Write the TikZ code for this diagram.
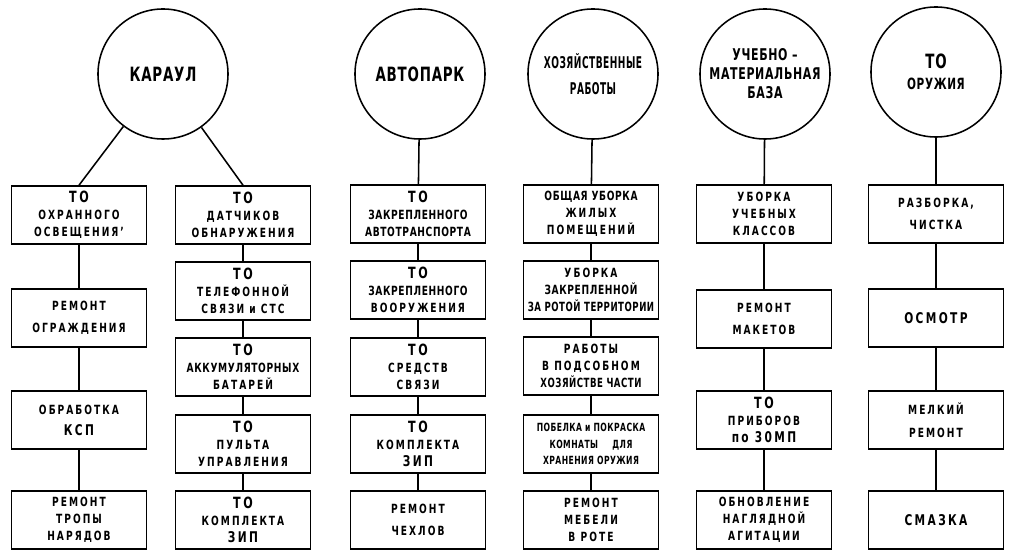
\documentclass[tikz,border=0pt]{standalone}
\usepackage{fontspec}
\setmainfont{DejaVu Sans}[FakeStretch=0.72,LetterSpace=16]
\newfontfamily\condfont{DejaVu Sans}[FakeStretch=0.68,LetterSpace=4]
\newfontfamily\narrowfont{DejaVu Sans}[FakeStretch=0.56,LetterSpace=3]
\usepackage{tikz}

\newcommand{\bigTO}{{\fontsize{11}{11}\selectfont ТО}}
\newcommand{\bigtxt}[1]{{\fontsize{10.5}{11}\selectfont #1}}
\newcommand{\tighttxt}[1]{{\addfontfeatures{LetterSpace=5}#1}}
\newcommand{\narrowtxt}[1]{{\condfont\bfseries #1}}

\tikzset{
  zone/.style={circle,draw,line width=1.1pt,minimum size=3.25cm,inner sep=0pt,align=center,
    font=\condfont\bfseries\fontsize{14}{16}\selectfont},
  job/.style={draw,line width=1.1pt,minimum width=3.38cm,minimum height=1.45cm,inner sep=1pt,
    align=center,font=\bfseries\fontsize{9}{12}\selectfont},
  link/.style={line width=1.1pt}
}

\begin{document}
\begin{tikzpicture}[x=0.025cm,y=-0.025cm]
\useasboundingbox (0,0) rectangle (1009,557);
% edit here for the circles
\node[zone] (karaul) at (163,74) {КАРАУЛ};
\node[zone] (avtopark) at (420,74) {АВТОПАРК};
\node[zone,font=\narrowfont\bfseries\fontsize{11.5}{19}\selectfont] (hoz) at (593,74) {ХОЗЯЙСТВЕННЫЕ\\РАБОТЫ};
\node[zone,font=\condfont\bfseries\fontsize{11.5}{13.5}\selectfont] (umb) at (765,74) {УЧЕБНО –\\МАТЕРИАЛЬНАЯ\\БАЗА};
\node[zone,font=\condfont\bfseries\fontsize{11}{15}\selectfont] (oruzh) at (936,72) {{\fontsize{14}{15}\selectfont ТО}\\ОРУЖИЯ};

% edit here for the boxes
\node[job] (a1) at (79,215) {\bigTO\\ОХРАННОГО\\ОСВЕЩЕНИЯ'};
\node[job] (a2) at (79,318) {РЕМОНТ\\[4pt]ОГРАЖДЕНИЯ};
\node[job] (a3) at (79,420) {ОБРАБОТКА\\[3pt]\bigtxt{КСП}};
\node[job] (a4) at (79,520) {РЕМОНТ\\ТРОПЫ\\НАРЯДОВ};

\node[job] (b1) at (243,215) {\bigTO\\ДАТЧИКОВ\\ОБНАРУЖЕНИЯ};
\node[job] (b2) at (243,291) {\bigTO\\ТЕЛЕФОННОЙ\\СВЯЗИ и СТС};
\node[job] (b3) at (243,367) {\bigTO\\\tighttxt{АККУМУЛЯТОРНЫХ}\\БАТАРЕЙ};
\node[job] (b4) at (243,444) {\bigTO\\ПУЛЬТА\\УПРАВЛЕНИЯ};
\node[job] (b5) at (243,520) {\bigTO\\КОМПЛЕКТА\\\bigtxt{ЗИП}};

\node[job] (c1) at (418,214) {\bigTO\\\tighttxt{ЗАКРЕПЛЕННОГО}\\\tighttxt{АВТОТРАНСПОРТА}};
\node[job] (c2) at (418,290) {\bigTO\\\tighttxt{ЗАКРЕПЛЕННОГО}\\ВООРУЖЕНИЯ};
\node[job] (c3) at (418,367) {\bigTO\\СРЕДСТВ\\СВЯЗИ};
\node[job] (c4) at (418,444) {\bigTO\\КОМПЛЕКТА\\\bigtxt{ЗИП}};
\node[job] (c5) at (418,520) {РЕМОНТ\\[4pt]ЧЕХЛОВ};

\node[job] (d1) at (591,214) {\tighttxt{ОБЩАЯ УБОРКА}\\ЖИЛЫХ\\ПОМЕЩЕНИЙ};
\node[job] (d2) at (591,290) {УБОРКА\\\tighttxt{ЗАКРЕПЛЕННОЙ}\\\narrowtxt{ЗА РОТОЙ ТЕРРИТОРИИ}};
\node[job] (d3) at (591,366) {РАБОТЫ\\В ПОДСОБНОМ\\\narrowtxt{ХОЗЯЙСТВЕ ЧАСТИ}};
\node[job,font=\condfont\bfseries\fontsize{8}{12}\selectfont] (d4) at (591,444) {ПОБЕЛКА и ПОКРАСКА\\КОМНАТЫ \quad ДЛЯ\\ХРАНЕНИЯ ОРУЖИЯ};
\node[job] (d5) at (591,520) {РЕМОНТ\\МЕБЕЛИ\\В РОТЕ};

\node[job] (e1) at (764,214) {УБОРКА\\УЧЕБНЫХ\\КЛАССОВ};
\node[job] (e2) at (764,319) {РЕМОНТ\\[4pt]МАКЕТОВ};
\node[job] (e3) at (764,420) {\bigTO\\ПРИБОРОВ\\\bigtxt{по 30МП}};
\node[job] (e4) at (764,520) {ОБНОВЛЕНИЕ\\НАГЛЯДНОЙ\\АГИТАЦИИ};

\node[job] (f1) at (936,214) {РАЗБОРКА,\\[4pt]ЧИСТКА};
\node[job] (f2) at (936,318) {\bigtxt{ОСМОТР}};
\node[job] (f3) at (936,420) {МЕЛКИЙ\\[4pt]РЕМОНТ};
\node[job] (f4) at (936,520) {\bigtxt{СМАЗКА}};

% edit here for the lines
\draw[link] (karaul) -- (a1.north);
\draw[link] (karaul) -- (b1.north);
\foreach \u/\v in {avtopark/c1,hoz/d1,umb/e1,oruzh/f1}
\draw[link] (\u) -- (\v);
\foreach \u/\v in {a1/a2,a2/a3,a3/a4,b1/b2,b2/b3,b3/b4,b4/b5,c1/c2,c2/c3,c3/c4,c4/c5,
  d1/d2,d2/d3,d3/d4,d4/d5,e1/e2,e2/e3,e3/e4,f1/f2,f2/f3,f3/f4}
\draw[link] (\u) -- (\v);

\end{tikzpicture}
\end{document}
